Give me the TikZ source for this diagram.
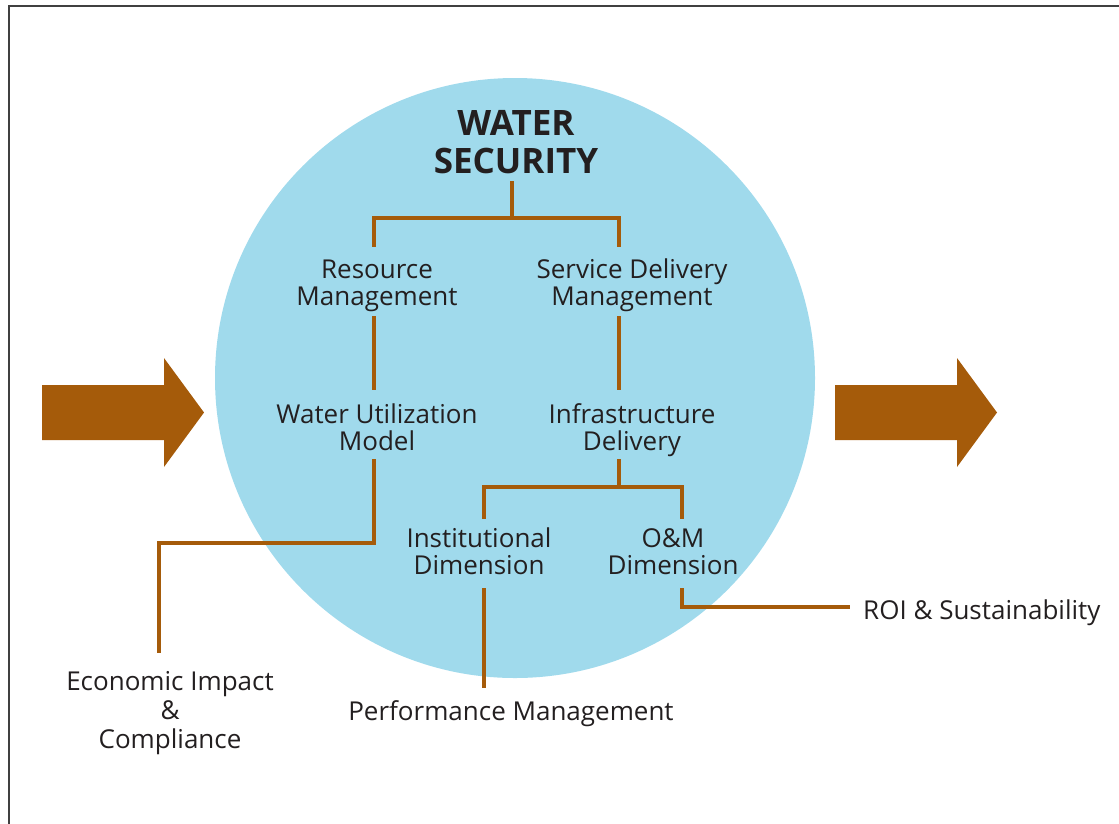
\documentclass[tikz,border=0pt]{standalone}
\usepackage{fontspec}
\setmainfont{Open Sans}
\definecolor{branch}{HTML}{A55B0A}
\definecolor{pool}{HTML}{A0DAEC}
\definecolor{ink}{HTML}{231F20}
\begin{document}
\begin{tikzpicture}[x=1pt,y=-1pt,
  label/.style={font=\fontsize{26}{27}\selectfont, text=ink, align=center, anchor=base, inner sep=0pt},
  title/.style={font=\fontsize{35}{38}\selectfont\bfseries, text=ink, align=center, anchor=base, inner sep=0pt},
  link/.style={draw=branch, line width=4pt},
  bigarrow/.style={fill=branch}]
\useasboundingbox (0,0) rectangle (1119,823);
% frame
\draw[line width=2pt, color=black!75] (9,830) -- (9,6) -- (1130,6);
% pool of water
\fill[pool] (515,378) circle (300);
% flow arrows
\fill[bigarrow] (42,385) -- (164,385) -- (164,358) -- (204,412.5) -- (164,467) -- (164,440) -- (42,440) -- cycle;
\fill[bigarrow] (835,385) -- (957,385) -- (957,358) -- (997,412.5) -- (957,467) -- (957,440) -- (835,440) -- cycle;
% labels (anchored at the baseline of their last line)
\node[title] (ws) at (516,173) {WATER\\SECURITY};
\node[label] (rm) at (377,305) {Resource\\Management};
\node[label] (sd) at (632,305) {Service Delivery\\Management};
\node[label] (wu) at (377,450) {Water Utilization\\Model};
\node[label] (id) at (632,450) {Infrastructure\\Delivery};
\node[label] (in) at (479,574) {Institutional\\Dimension};
\node[label] (om) at (673,574) {O\&M\\Dimension};
\node[label, font=\fontsize{26}{29}\selectfont] (ec) at (170,748) {Economic Impact\\\&\\Compliance};
\node[label] (pm) at (511,720) {Performance Management};
\node[label, anchor=base west] (roi) at (863,619) {ROI \& Sustainability};
% connector end points
\coordinate (wsA) at (512,181);
\coordinate (rmA) at (374,247);
\coordinate (sdA) at (619,247);
\coordinate (rmB) at (374,316);
\coordinate (wuA) at (374,390);
\coordinate (sdB) at (619,316);
\coordinate (idA) at (619,390);
\coordinate (wuB) at (374,459);
\coordinate (ecA) at (159,653);
\coordinate (idB) at (619,459);
\coordinate (inA) at (484,519);
\coordinate (omA) at (682,519);
\coordinate (inB) at (484,588);
\coordinate (pmA) at (484,688);
\coordinate (omB) at (682,588);
\coordinate (roiA) at (850,607);
% connectors
\draw[link] (wsA) -- (512,218) -| (rmA);
\draw[link] (512,218) -| (sdA);
\draw[link] (rmB) -- (wuA);
\draw[link] (sdB) -- (idA);
\draw[link] (wuB) |- (159,543) -- (ecA);
\draw[link] (idB) -- (619,487) -| (inA);
\draw[link] (619,487) -| (omA);
\draw[link] (inB) -- (pmA);
\draw[link] (omB) |- (roiA);
\end{tikzpicture}
\end{document}
